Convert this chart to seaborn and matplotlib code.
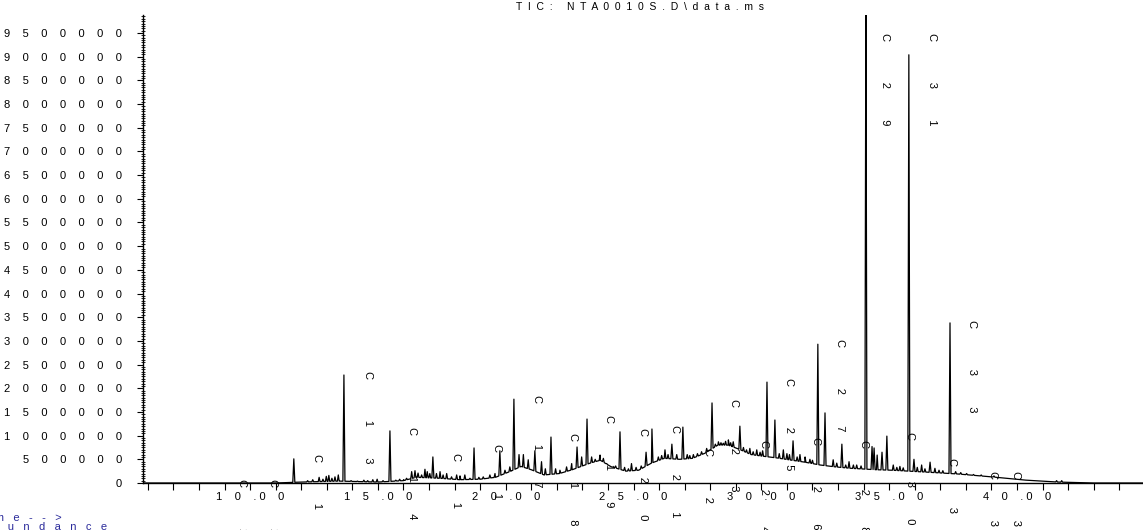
import numpy as np
import pandas as pd
import matplotlib
matplotlib.use("Agg")
import matplotlib.pyplot as plt
from matplotlib.ticker import MultipleLocator, FuncFormatter
import seaborn as sns

# ---------------- data ----------------
title_text = "TIC: NTA0010S.D\\data.ms"
x_label_text = "Time-->"
y_label_text = "Abundance"

# slowly varying baseline (hump) : minutes, abundance (millions)
baseline_time = [5.81, 11.0, 12.0, 13.5, 15.0, 16.0, 16.5, 17.4, 18.2, 19.0, 19.6, 20.2, 20.6,
                 21.0, 21.5, 22.1, 22.6, 23.3, 23.7, 24.1, 24.7, 25.2, 25.7, 26.2, 26.8, 27.3,
                 27.8, 28.3, 28.7, 29.1, 29.6, 30.0, 30.6, 31.2, 31.7, 32.3, 32.9, 33.5, 34.5,
                 35.1, 36.45, 37.7, 39.0, 40.35, 41.6, 43.0, 44.93]
baseline_abund = [0.0, 0.0, 0.02, 0.04, 0.02, 0.05, 0.12, 0.10, 0.07, 0.08, 0.12, 0.25, 0.35,
                  0.28, 0.17, 0.20, 0.28, 0.42, 0.48, 0.35, 0.25, 0.27, 0.42, 0.52, 0.50, 0.52,
                  0.63, 0.80, 0.80, 0.72, 0.60, 0.57, 0.53, 0.48, 0.44, 0.38, 0.34, 0.31, 0.28,
                  0.27, 0.23, 0.19, 0.13, 0.06, 0.02, 0.0, 0.0]

# prominent peaks : retention time (min), apex abundance (millions)
peak_time = [11.71, 13.67, 15.47, 17.15, 18.76, 19.77, 20.32, 21.14, 21.77, 22.79, 23.18,
             24.47, 25.49, 25.72, 26.50, 26.93, 28.07, 29.16, 30.22, 30.53, 31.24, 32.21,
             32.49, 33.15, 34.09, 34.33, 34.41, 34.72, 34.91, 35.77, 35.97, 36.60, 37.38]
peak_abund = [0.51, 2.28, 1.10, 0.55, 0.74, 0.68, 1.77, 0.68, 0.97, 0.76, 1.35,
              1.08, 0.65, 1.14, 0.82, 1.18, 1.69, 1.20, 2.13, 1.33, 0.89, 2.93,
              1.48, 0.82, 10.6, 0.77, 0.74, 0.65, 0.99, 9.04, 0.50, 0.44, 3.38]

# small peaks / noise on the trace
minor_time = [12.25, 12.45, 12.70, 12.85, 12.98, 13.08, 13.20, 13.32, 13.45,
              13.95, 14.20, 14.45, 14.60, 14.80, 14.97, 15.20, 15.70, 15.85, 16.00, 16.12,
              16.32, 16.45, 16.57, 16.71, 16.84, 16.93, 17.03, 17.29, 17.43, 17.55, 17.69,
              17.88, 18.08, 18.21, 18.40, 18.60, 18.95, 19.12, 19.38, 19.58, 19.97, 20.16,
              20.52, 20.69, 20.88, 21.40, 21.55, 21.95, 22.12, 22.38, 22.58, 22.97, 23.36,
              23.50, 23.69, 23.82, 23.95, 24.14, 24.30, 24.65, 24.80, 24.92, 25.10, 25.30,
              25.97, 26.10, 26.23, 26.35, 26.69, 27.10, 27.20, 27.34, 27.50, 27.66, 27.86,
              28.20, 28.32, 28.42, 28.51, 28.60, 28.71, 28.80, 28.90, 29.30, 29.42, 29.55,
              29.68, 29.82, 29.95, 30.05, 30.70, 30.86, 31.00, 31.10, 31.40, 31.51, 31.71,
              31.90, 32.00, 32.81, 32.95, 33.30, 33.43, 33.60, 33.73, 33.90, 34.53, 35.16,
              35.30, 35.42, 35.55, 36.10, 36.27, 36.40, 36.79, 36.95, 37.10, 37.60, 37.80,
              38.03, 38.30, 38.60, 39.10, 41.55, 41.75]
minor_abund = [0.05, 0.07, 0.12, 0.08, 0.14, 0.16, 0.10, 0.13, 0.17,
               0.05, 0.04, 0.06, 0.05, 0.07, 0.08, 0.05, 0.06, 0.08, 0.07, 0.10,
               0.24, 0.26, 0.21, 0.17, 0.29, 0.24, 0.20, 0.20, 0.24, 0.17, 0.20,
               0.13, 0.17, 0.15, 0.17, 0.10, 0.12, 0.13, 0.17, 0.20, 0.27, 0.34,
               0.60, 0.60, 0.49, 0.45, 0.30, 0.30, 0.27, 0.34, 0.41, 0.55, 0.55,
               0.50, 0.59, 0.52, 0.41, 0.34, 0.36, 0.33, 0.30, 0.41, 0.33, 0.36,
               0.55, 0.58, 0.70, 0.60, 0.60, 0.60, 0.58, 0.60, 0.62, 0.66, 0.73,
               0.82, 0.87, 0.85, 0.84, 0.88, 0.91, 0.85, 0.87, 0.75, 0.70, 0.73,
               0.66, 0.70, 0.65, 0.68, 0.62, 0.70, 0.62, 0.60, 0.55, 0.60, 0.55,
               0.50, 0.48, 0.49, 0.42, 0.38, 0.45, 0.38, 0.38, 0.36, 0.59, 0.38,
               0.33, 0.35, 0.32, 0.33, 0.38, 0.30, 0.31, 0.27, 0.26, 0.24, 0.22,
               0.20, 0.18, 0.17, 0.15, 0.05, 0.05]

# n-alkane labels : name, position of the "C" (min, millions)
label_names = ["C10", "C11", "C12", "C13", "C14", "C15", "C16", "C17", "C18", "C19",
               "C20", "C21", "C22", "C23", "C24", "C25", "C26", "C27", "C28", "C29",
               "C30", "C31", "C32", "C33", "C34", "C35"]
label_time = [9.68, 10.89, 12.61, 14.61, 16.33, 18.05, 19.66, 21.22, 22.63, 24.04,
              25.37, 26.62, 27.91, 28.93, 30.10, 31.08, 32.14, 33.08, 34.01, 34.84,
              35.82, 36.67, 37.46, 38.24, 39.06, 39.96]
label_abund = [0.0, 0.0, 0.53, 2.28, 1.10, 0.55, 0.74, 1.77, 0.97, 1.35,
               1.08, 1.14, 0.65, 1.69, 0.82, 2.13, 0.89, 2.96, 0.82, 9.42,
               0.99, 9.42, 0.44, 3.36, 0.17, 0.17]

x_tick_values = [10, 15, 20, 25, 30, 35, 40]

# ---------------- build the trace ----------------
MILLION = 1e6
bt = np.array(baseline_time)
bv = np.array(baseline_abund)


def base_at(t):
    return float(np.interp(t, bt, bv))


pts = list(zip(baseline_time, baseline_abund))
for times, heights, hw in ((peak_time, peak_abund, 0.04), (minor_time, minor_abund, 0.035)):
    for t, h in zip(times, heights):
        pts += [(t - hw, base_at(t - hw)), (t, h), (t + hw, base_at(t + hw))]
pts.sort(key=lambda p: p[0])
trace = pd.DataFrame(pts, columns=["time", "abund"])
trace["abund"] *= MILLION

# ---------------- figure ----------------
W, H = 1143, 530
sns.set_theme(style="ticks")
plt.rcParams["font.family"] = ["Liberation Sans", "DejaVu Sans"]
plt.rcParams["axes.linewidth"] = 1.0

fig = plt.figure(figsize=(W / 100, H / 100), dpi=100)
fig.patch.set_facecolor("white")
ax = fig.add_axes([143 / W, (H - 483) / H, 1000 / W, (483 - 15) / H])
ax.set_facecolor("white")

sns.lineplot(data=trace, x="time", y="abund", estimator=None, sort=False,
             color="black", lw=0.9, ax=ax)

ax.set_xlim(5.81, 44.93)
ax.set_ylim(0, 9.88 * MILLION)
ax.set_xlabel("")
ax.set_ylabel("")
for s in ("top", "right"):
    ax.spines[s].set_visible(False)
for s in ("left", "bottom"):
    ax.spines[s].set_color("black")
    ax.spines[s].set_linewidth(1.0)


def spaced(s, n):
    return (" " * n).join(s)


def xfmt(v, pos):
    r = int(round(v))
    if abs(v - r) < 1e-6 and r in x_tick_values:
        s = f"{r:d}.00"
        a, b = s.split(".")
        return spaced(a, 4) + "    . " + spaced(b, 4)
    return ""


def yfmt(v, pos):
    return spaced(str(int(round(v))), 4)


ax.xaxis.set_major_locator(MultipleLocator(1))
ax.xaxis.set_major_formatter(FuncFormatter(xfmt))
ax.yaxis.set_major_locator(MultipleLocator(500000))
ax.yaxis.set_minor_locator(MultipleLocator(50000))
ax.yaxis.set_major_formatter(FuncFormatter(yfmt))
ax.tick_params(axis="x", which="major", length=5, width=0.8, direction="out",
               pad=1.5, labelsize=8, colors="black")
ax.tick_params(axis="y", which="major", length=4, width=0.8, direction="out",
               pad=11, labelsize=8, colors="black")
ax.tick_params(axis="y", which="minor", length=2.5, width=0.6, direction="inout",
               colors="black")

# peak labels (vertical, letter spaced)
for name, t, a in zip(label_names, label_time, label_abund):
    txt = name[0] + " " * 13 + spaced(name[1:], 10)
    ax.annotate(txt, xy=(t, a * MILLION), xytext=(0, 2.9), textcoords="offset points",
                rotation=-90, rotation_mode="anchor", ha="left", va="center",
                fontsize=8, color="black", annotation_clip=False, clip_on=False)

# title and axis captions
fig.text(640 / W, 1 - 7 / H, spaced(title_text, 2), ha="center", va="center",
         fontsize=7.5, color="black")
fig.text(62 / W, 1 - 518 / H, spaced(x_label_text, 3), ha="right", va="center",
         fontsize=8, color="#2b2b9b")
fig.text(107 / W, 1 - 527 / H, spaced(y_label_text, 3), ha="right", va="center",
         fontsize=8, color="#2b2b9b")

fig.savefig("out.png", dpi=100, facecolor="white")
